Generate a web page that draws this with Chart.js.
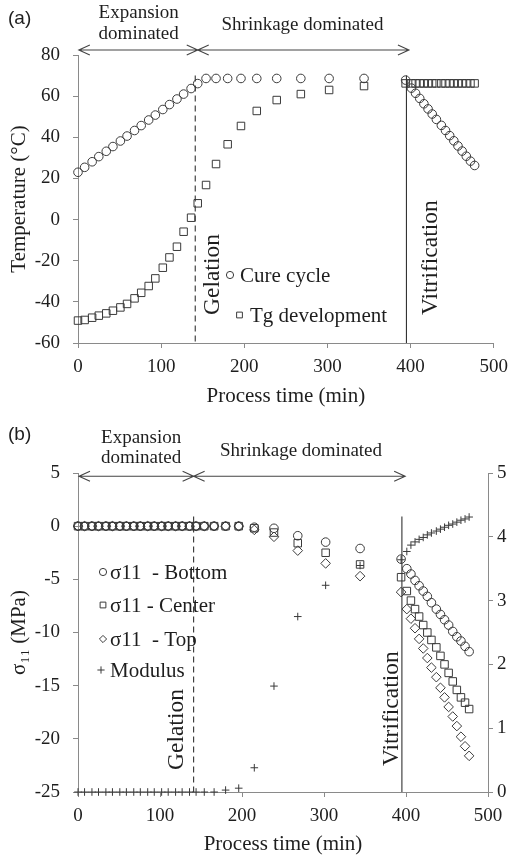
<!DOCTYPE html>
<html>
<head>
<meta charset="utf-8">
<script src="https://cdn.jsdelivr.net/npm/chart.js@4.4.0/dist/chart.umd.min.js"></script>
<style>
    html, body { margin: 0; padding: 0; background: #fff; }
    #wrap-a { position: absolute; left: 0; top: 0; width: 516px; height: 420px; }
    #wrap-b { position: absolute; left: 0; top: 400px; width: 516px; height: 457px; }
</style>
</head>
<body>
<div id="wrap-a"><canvas id="chart-a"></canvas></div>
<div id="wrap-b"><canvas id="chart-b"></canvas></div>
<script>
// ===== ДАННЫЕ =====

// Время процесса (мин): до стеклования и после него
const timeMain = [0, 8, 17, 25, 34, 42, 51, 59, 68, 76, 85, 93, 102, 110, 119, 127, 136, 144,
    154, 166, 180, 196, 215, 239, 268, 302, 344, 394];
const timeVit = [401, 406, 411, 416, 421, 426, 431, 437, 442, 447, 452, 457, 462, 467, 472, 477];

// (a) Температура цикла отверждения и Tg (°C)
const cureMain = [23.0, 25.4, 28.1, 30.6, 33.2, 35.5, 38.2, 40.6, 43.3, 45.7, 48.4, 50.8, 53.5, 55.9,
    58.6, 61.0, 63.7, 66.1, 68.6, 68.6, 68.6, 68.6, 68.6, 68.6, 68.6, 68.6, 68.6, 67.8];
const cureVit = [63.9, 61.4, 58.9, 56.3, 53.8, 51.3, 48.7, 45.8, 43.3, 40.8, 38.3, 35.8, 33.3, 30.8, 28.4, 26.3];
const tgMain = [-49.1, -48.8, -47.7, -46.7, -45.6, -44.3, -42.7, -41.0, -38.3, -35.6, -32.3, -28.6, -23.4,
    -18.4, -13.2, -5.9, 0.9, 7.9, 16.8, 27.0, 36.6, 45.5, 52.8, 58.1, 61.0, 63.0, 64.9, 66.2];
const tgVit = [66.2, 66.2, 66.2, 66.2, 66.2, 66.2, 66.2, 66.2, 66.2, 66.2, 66.2, 66.2, 66.2, 66.2, 66.2, 66.2];

// (b) Напряжения σ11 (МПа) и модуль (правая ось)
const sigmaBottomMain = [0, 0, 0, 0, 0, 0, 0, 0, 0, 0, 0, 0, 0, 0, 0, 0, 0, 0, 0, 0, 0, 0,
    -0.1, -0.2, -0.9, -1.5, -2.1, -3.1];
const sigmaBottomVit = [-4.0, -4.5, -5.1, -5.6, -6.1, -6.6, -7.2, -7.8, -8.3, -8.8, -9.3, -9.9, -10.4, -10.8, -11.3, -11.8];
const sigmaCenterMain = [0, 0, 0, 0, 0, 0, 0, 0, 0, 0, 0, 0, 0, 0, 0, 0, 0, 0, 0, 0, 0, 0,
    -0.2, -0.6, -1.6, -2.5, -3.6, -4.8];
const sigmaCenterVit = [-6.1, -7.0, -7.8, -8.5, -9.3, -10.0, -10.7, -11.4, -12.2, -13.0, -13.8, -14.6, -15.4, -16.1, -16.6, -17.2];
const sigmaTopMain = [0, 0, 0, 0, 0, 0, 0, 0, 0, 0, 0, 0, 0, 0, 0, 0, 0, 0, 0, 0, 0, 0,
    -0.35, -1.0, -2.3, -3.5, -4.7, -6.2];
const sigmaTopVit = [-7.8, -8.7, -9.6, -10.6, -11.5, -12.4, -13.3, -14.2, -15.2, -16.1, -17.0, -17.9, -18.8, -19.8, -20.7, -21.6];
const modulusMain = [0, 0, 0, 0, 0, 0, 0, 0, 0, 0, 0, 0, 0, 0, 0, 0, 0, 0, 0, 0, 0.03, 0.06,
    0.38, 1.66, 2.75, 3.24, 3.55, 3.64];
const modulusVit = [3.77, 3.87, 3.92, 3.96, 3.99, 4.03, 4.06, 4.09, 4.12, 4.15, 4.18, 4.20, 4.23, 4.26, 4.28, 4.31];

// Характерные моменты процесса (мин)
const gelationTime = 141;
const vitrificationTime = 395;

// ===== ОБЩИЕ СТИЛИ =====
const SERIF = "'Liberation Serif', 'DejaVu Serif', serif";
const SANS = "'Liberation Sans', Arial, sans-serif";
const AXIS_COLOR = '#8a8a8a';
const INK = '#1e1e1e';
const MARK = '#3a3a3a';

Chart.defaults.font.family = SERIF;
Chart.defaults.color = INK;

/** Склеиваем массивы времени и значений в точки {x, y} */
function toPoints(times, values) {
    return times.map((t, i) => ({ x: t, y: values[i] }));
}

/** Общий вид осей: только линия оси и внешние засечки */
function axisStyle(extra) {
    return Object.assign({
        grid: { drawOnChartArea: false, drawTicks: true, tickLength: 5, color: AXIS_COLOR, lineWidth: 1 },
        border: { display: true, color: AXIS_COLOR, width: 1 }
    }, extra);
}

function seriesStyle(label, pointStyle, radius, yAxisID) {
    return {
        label: label,
        pointStyle: pointStyle,
        pointRadius: radius,
        pointBorderColor: MARK,
        pointBackgroundColor: 'rgba(255,255,255,0)',
        pointBorderWidth: 1,
        showLine: false,
        clip: false, // точки на краю оси не обрезаем
        yAxisID: yAxisID || 'y'
    };
}

// ===== ВСПОМОГАТЕЛЬНОЕ РИСОВАНИЕ =====

function drawArrow(ctx, x1, x2, y) {
    ctx.beginPath();
    ctx.moveTo(x1, y); ctx.lineTo(x2, y);
    ctx.moveTo(x1 + 11, y - 5); ctx.lineTo(x1, y); ctx.lineTo(x1 + 11, y + 5);
    ctx.moveTo(x2 - 11, y - 5); ctx.lineTo(x2, y); ctx.lineTo(x2 - 11, y + 5);
    ctx.stroke();
}

function drawVertical(ctx, x, yTop, yBottom, dashed) {
    ctx.save();
    ctx.setLineDash(dashed ? [6, 4] : []);
    ctx.beginPath();
    ctx.moveTo(x, yTop); ctx.lineTo(x, yBottom);
    ctx.stroke();
    ctx.restore();
}

// Подпись, повернутая снизу вверх; (x, y) — начало базовой линии
function drawRotated(ctx, text, x, y) {
    ctx.save();
    ctx.translate(x, y);
    ctx.rotate(-Math.PI / 2);
    ctx.textAlign = 'left';
    ctx.textBaseline = 'alphabetic';
    ctx.fillText(text, 0, 0);
    ctx.restore();
}

function drawMarker(ctx, style, x, y, r) {
    ctx.beginPath();
    if (style === 'circle') {
        ctx.arc(x, y, r, 0, Math.PI * 2);
    } else if (style === 'rect') {
        ctx.rect(x - r * 0.8, y - r * 0.8, r * 1.6, r * 1.6);
    } else if (style === 'rectRot') {
        ctx.moveTo(x, y - r); ctx.lineTo(x + r, y); ctx.lineTo(x, y + r); ctx.lineTo(x - r, y); ctx.closePath();
    } else {
        ctx.moveTo(x - r, y); ctx.lineTo(x + r, y);
        ctx.moveTo(x, y - r); ctx.lineTo(x, y + r);
    }
    ctx.stroke();
}

function drawLegend(ctx, rows) {
    ctx.save();
    ctx.strokeStyle = MARK;
    ctx.lineWidth = 1;
    ctx.fillStyle = INK;
    ctx.font = '21px ' + SERIF;
    ctx.textAlign = 'left';
    ctx.textBaseline = 'middle';
    rows.forEach(r => {
        drawMarker(ctx, r.style, r.mx, r.y, 3.6);
        ctx.fillText(r.text, r.tx, r.y + 1);
    });
    ctx.restore();
}

// ===== 1. ГРАФИК (a): ТЕМПЕРАТУРА =====

const annotationsA = {
    id: 'annotationsA',
    afterDatasetsDraw(chart) {
        const { ctx, chartArea, scales: { x, y } } = chart;
        ctx.save();
        ctx.strokeStyle = '#333';
        ctx.fillStyle = INK;
        ctx.lineWidth = 1.1;

        const gx = x.getPixelForValue(gelationTime);
        const vx = x.getPixelForValue(vitrificationTime);
        drawVertical(ctx, gx, y.getPixelForValue(70), chartArea.bottom, true);
        drawVertical(ctx, vx, y.getPixelForValue(70), chartArea.bottom, false);

        // Стрелки областей расширения / усадки
        const ay = chartArea.top - 5;
        ctx.strokeStyle = '#444';
        drawArrow(ctx, x.getPixelForValue(1), x.getPixelForValue(144), ay);
        drawArrow(ctx, x.getPixelForValue(144), x.getPixelForValue(398), ay);

        ctx.font = '19px ' + SERIF;
        ctx.textAlign = 'center';
        ctx.textBaseline = 'middle';
        ctx.fillText('Expansion', x.getPixelForValue(73), ay - 37);
        ctx.fillText('dominated', x.getPixelForValue(73), ay - 16);
        ctx.fillText('Shrinkage dominated', x.getPixelForValue(270), ay - 25);

        ctx.font = '19px ' + SANS;
        ctx.textAlign = 'left';
        ctx.fillText('(a)', 8, 19);

        ctx.font = '23.5px ' + SERIF;
        drawRotated(ctx, 'Gelation', gx + 24, chartArea.bottom - 28);
        drawRotated(ctx, 'Vitrification', vx + 31, chartArea.bottom - 28);
        ctx.restore();

        drawLegend(ctx, [
            { style: 'circle', mx: 230, tx: 240, y: chartArea.bottom - 68, text: 'Cure cycle' },
            { style: 'rect', mx: 239.5, tx: 250, y: chartArea.bottom - 28, text: 'Tg development' }
        ]);
    }
};

new Chart(document.getElementById('chart-a'), {
    type: 'scatter',
    data: {
        datasets: [
            Object.assign(seriesStyle('Cure cycle', 'circle', 4.3),
                { data: toPoints(timeMain.concat(timeVit), cureMain.concat(cureVit)) }),
            Object.assign(seriesStyle('Tg development', 'rect', 5.3),
                { data: toPoints(timeMain.concat(timeVit), tgMain.concat(tgVit)) })
        ]
    },
    options: {
        responsive: true,
        maintainAspectRatio: false,
        devicePixelRatio: 1,
        animation: false,
        layout: { padding: { top: 55, right: 15, bottom: 0, left: 0 } },
        plugins: { legend: { display: false }, tooltip: { enabled: false } },
        scales: {
            x: axisStyle({
                type: 'linear', min: 0, max: 500,
                ticks: { stepSize: 100, padding: 8, font: { size: 19 }, color: INK },
                title: { display: true, text: 'Process time (min)', font: { size: 21 }, color: INK, padding: { top: 0, bottom: 11 } },
                afterFit: s => { s.height = 77; }
            }),
            y: axisStyle({
                min: -60, max: 80,
                ticks: { stepSize: 20, padding: 13, font: { size: 19 }, color: INK },
                title: { display: true, text: 'Temperature (°C)', font: { size: 21 }, color: INK, padding: { top: 7, bottom: 0 } },
                afterFit: s => { s.width = 78; }
            })
        }
    },
    plugins: [annotationsA]
});

// ===== 2. ГРАФИК (b): НАПРЯЖЕНИЯ И МОДУЛЬ =====

const annotationsB = {
    id: 'annotationsB',
    afterDatasetsDraw(chart) {
        const { ctx, chartArea, scales: { x, y } } = chart;
        ctx.save();
        ctx.strokeStyle = '#333';
        ctx.fillStyle = INK;
        ctx.lineWidth = 1.1;

        const gx = x.getPixelForValue(gelationTime);
        const vx = x.getPixelForValue(vitrificationTime);
        drawVertical(ctx, gx, y.getPixelForValue(0.9), chartArea.bottom, true);
        drawVertical(ctx, vx, y.getPixelForValue(0.9), chartArea.bottom, false);

        const ay = y.getPixelForValue(4.7);
        ctx.strokeStyle = '#444';
        drawArrow(ctx, x.getPixelForValue(0) + 1, x.getPixelForValue(141), ay);
        drawArrow(ctx, x.getPixelForValue(141), x.getPixelForValue(399), ay);

        ctx.font = '19px ' + SERIF;
        ctx.textAlign = 'center';
        ctx.textBaseline = 'middle';
        ctx.fillText('Expansion', x.getPixelForValue(77), ay - 38);
        ctx.fillText('dominated', x.getPixelForValue(77), ay - 18);
        ctx.fillText('Shrinkage dominated', x.getPixelForValue(272), ay - 25);

        ctx.font = '19px ' + SANS;
        ctx.textAlign = 'left';
        ctx.fillText('(b)', 8, 35);

        ctx.font = '23.5px ' + SERIF;
        drawRotated(ctx, 'Gelation', gx - 11, chartArea.bottom - 22);
        drawRotated(ctx, 'Vitrification', vx - 4, chartArea.bottom - 26);
        ctx.restore();

        const t = chartArea.top;
        drawLegend(ctx, [
            { style: 'circle', mx: 103, tx: 110, y: t + 99, text: 'σ11  - Bottom' },
            { style: 'rect', mx: 103, tx: 110, y: t + 132, text: 'σ11 - Center' },
            { style: 'rectRot', mx: 103, tx: 110, y: t + 166, text: 'σ11  - Top' },
            { style: 'cross', mx: 101, tx: 110, y: t + 197, text: 'Modulus' }
        ]);
    }
};

const allTimes = timeMain.concat(timeVit);

new Chart(document.getElementById('chart-b'), {
    type: 'scatter',
    data: {
        datasets: [
            Object.assign(seriesStyle('σ11 - Bottom', 'circle', 4.3),
                { data: toPoints(allTimes, sigmaBottomMain.concat(sigmaBottomVit)) }),
            Object.assign(seriesStyle('σ11 - Center', 'rect', 5.3),
                { data: toPoints(allTimes, sigmaCenterMain.concat(sigmaCenterVit)) }),
            Object.assign(seriesStyle('σ11 - Top', 'rectRot', 4.8),
                { data: toPoints(allTimes, sigmaTopMain.concat(sigmaTopVit)) }),
            Object.assign(seriesStyle('Modulus', 'cross', 3.8, 'y1'),
                { data: toPoints(allTimes, modulusMain.concat(modulusVit)) })
        ]
    },
    options: {
        responsive: true,
        maintainAspectRatio: false,
        devicePixelRatio: 1,
        animation: false,
        layout: { padding: { top: 73, right: 0, bottom: 0, left: 0 } },
        plugins: { legend: { display: false }, tooltip: { enabled: false } },
        scales: {
            x: axisStyle({
                type: 'linear', min: 0, max: 500,
                ticks: { stepSize: 100, padding: 8, font: { size: 19 }, color: INK },
                title: { display: true, text: 'Process time (min)', font: { size: 21 }, color: INK, padding: { top: 0, bottom: 0 } },
                afterFit: s => { s.height = 65; }
            }),
            y: axisStyle({
                position: 'left', min: -25, max: 5,
                ticks: { stepSize: 5, padding: 13, font: { size: 19 }, color: INK },
                title: { display: true, text: 'σ₁₁ (MPa)', font: { size: 21 }, color: INK, padding: { top: 7, bottom: 0 } },
                afterFit: s => { s.width = 78; }
            }),
            y1: axisStyle({
                position: 'right', min: 0, max: 5,
                ticks: { stepSize: 1, padding: 4, font: { size: 19 }, color: INK },
                afterFit: s => { s.width = 28; }
            })
        }
    },
    plugins: [annotationsB]
});
</script>
</body>
</html>
